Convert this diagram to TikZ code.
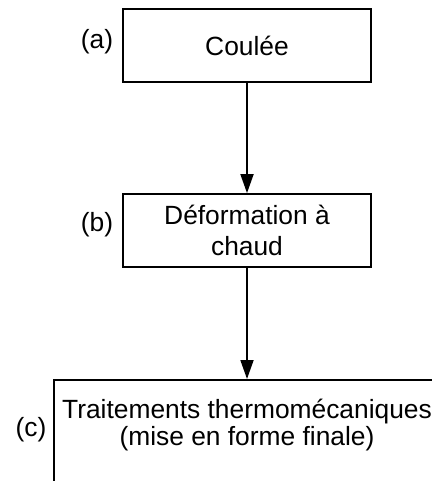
\documentclass[tikz,border=0pt]{standalone}
\usepackage{fontspec}
\setmainfont{Liberation Sans}
\usetikzlibrary{arrows.meta, positioning}

\begin{document}
\begin{tikzpicture}[
    >={Triangle[length=0.38cm, width=0.26cm]},
    stage/.style={rectangle, draw=black, line width=1pt,
                  minimum width=4.96cm, minimum height=1.46cm, align=center,
                  font=\fontsize{15}{17.6}\selectfont},
    tag/.style={font=\fontsize{15}{17}\selectfont, inner sep=0pt}
]
\clip (0,0) rectangle (8.64,-9.62);
\node[stage] (coulee) at (4.94,-0.91) {Coulée};
\node[stage] (deform) at (4.94,-4.61) {Déformation à\\chaud};
% last box runs off the page on the right and at the bottom
\node[stage, anchor=north west, minimum width=8.4cm, minimum height=2.6cm] (ttm) at (1.06,-7.58) {};
\node[align=center, inner sep=0pt, font=\fontsize{15}{13.1}\selectfont] (ttmtext) at (4.94,-8.5)
    {Traitements thermomécaniques\\(mise en forme finale)};
\node[tag] (taga) at (1.94,-0.84) {(a)};
\node[tag] (tagb) at (1.94,-4.50) {(b)};
\node[tag] (tagc) at (0.62,-8.60) {(c)};
\draw[->, line width=1pt] (coulee) -- (deform);
\draw[->, line width=1pt] (deform) -- (deform |- ttm.north);
\end{tikzpicture}
\end{document}
